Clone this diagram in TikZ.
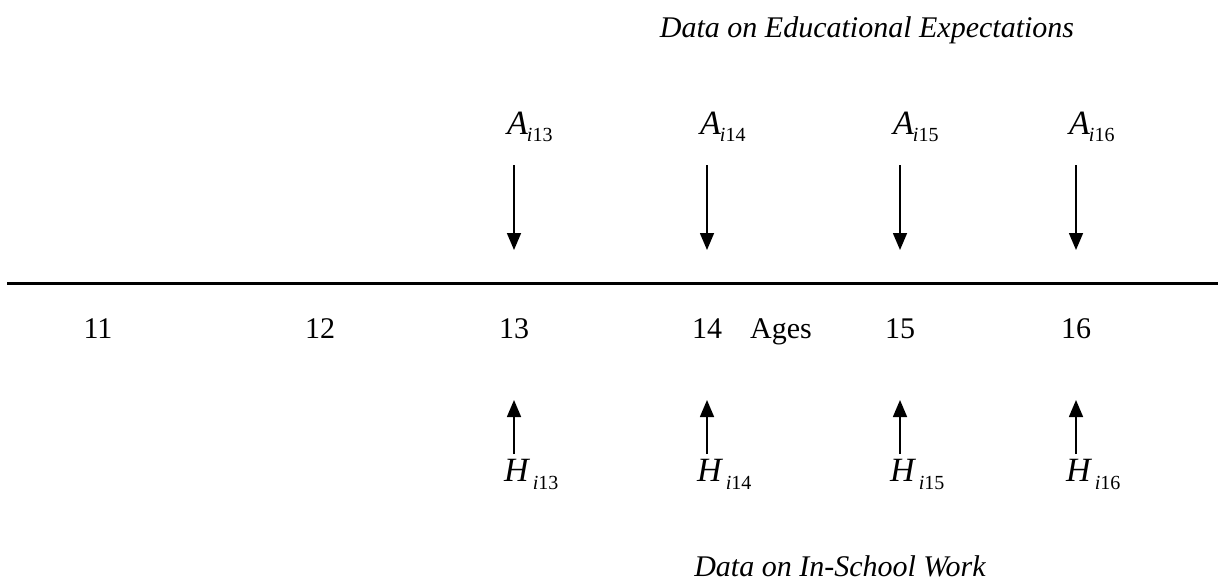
\documentclass[tikz,border=0pt]{standalone}
\usepackage{fontspec}
\setmainfont{Liberation Serif}
\usetikzlibrary{arrows.meta}
\newcommand{\bigfont}{\fontsize{30}{34}\selectfont}
\newcommand{\letfont}{\fontsize{34}{38}\selectfont}
\newcommand{\subfont}{\fontsize{20}{22}\selectfont}
\newcommand{\Alab}[1]{{\letfont\itshape A}\kern-1pt\raisebox{-7pt}{\subfont\itshape i\upshape #1}}
\newcommand{\Hlab}[1]{{\letfont\itshape H}\kern4pt\raisebox{-8pt}{\subfont\itshape i\upshape #1}}
\begin{document}
\begin{tikzpicture}[x=1pt,y=-1pt,
  lab/.style={inner sep=0pt,font=\bigfont},
  arr/.style={line width=1.6pt,-{Triangle[length=17pt,width=14pt]}}]
\useasboundingbox (0,0) rectangle (1218,587);
\node[lab,font=\bigfont\itshape] (t1) at (867,30) {Data on Educational Expectations};
\node[lab,font=\bigfont\itshape] (t2) at (840,566) {Data on In-School Work};
\coordinate (L) at (7,283);
\coordinate (R) at (1218,283);
\draw[line width=3pt] (L) -- (R);
\foreach \x/\n in {514/13,707/14,900/15,1076/16}{
  \node[lab,anchor=base west] (A\n) at (\x-7,134) {\Alab{\n}};
  \coordinate (as\n) at (\x,165);
  \coordinate (ae\n) at (\x,250);
  \draw[arr] (as\n) -- (ae\n);
  \node[lab,anchor=base] (N\n) at (\x,338) {\n};
  \coordinate (us\n) at (\x,454);
  \coordinate (ue\n) at (\x,400);
  \draw[arr] (us\n) -- (ue\n);
  \node[lab,anchor=base west] (H\n) at (\x-10,481) {\Hlab{\n}};
}
\node[lab,anchor=base] (N11) at (98,338) {11};
\node[lab,anchor=base] (N12) at (320,338) {12};
\node[lab,anchor=base] (ages) at (781,338) {Ages};
\end{tikzpicture}
\end{document}
